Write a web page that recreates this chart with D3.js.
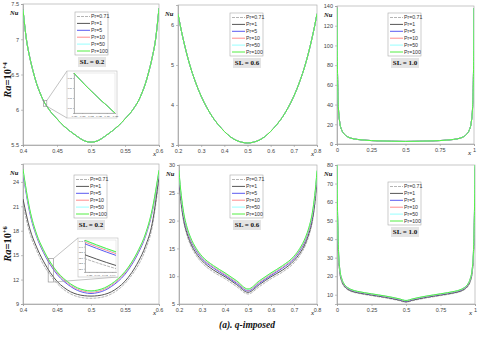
<!DOCTYPE html>
<html>
<head>
<meta charset="utf-8">
<script src="https://cdn.jsdelivr.net/npm/d3@7"></script>
<style>
body { margin: 0; background: #fff; }
svg { display: block; }
</style>
</head>
<body>
<svg id="chart" width="480" height="338"></svg>
<script>
// series labels
var prLabels = ["Pr=0.71", "Pr=1", "Pr=5", "Pr=10", "Pr=50", "Pr=100"];

// Ra = 10^4, SL = 0.2 (all Pr overlap)
var xA = [0.4, 0.405, 0.41, 0.415, 0.42, 0.425, 0.43, 0.435, 0.44, 0.45, 0.46, 0.47, 0.48, 0.49, 0.5,
          0.51, 0.52, 0.53, 0.54, 0.55, 0.56, 0.565, 0.57, 0.575, 0.58, 0.585, 0.59, 0.595, 0.6];
var nuA = [7.42, 7.0, 6.74, 6.54, 6.37, 6.24, 6.13, 6.05, 5.98, 5.87, 5.77, 5.69, 5.62, 5.56, 5.54,
           5.56, 5.62, 5.69, 5.77, 5.87, 5.98, 6.05, 6.13, 6.24, 6.37, 6.54, 6.74, 7.0, 7.44];

// Ra = 10^4, SL = 0.6
var xB = [0.2, 0.21, 0.22, 0.23, 0.24, 0.25, 0.275, 0.3, 0.325, 0.35, 0.375, 0.4, 0.425, 0.45, 0.475, 0.5,
          0.525, 0.55, 0.575, 0.6, 0.625, 0.65, 0.675, 0.7, 0.725, 0.75, 0.76, 0.77, 0.78, 0.79, 0.8];
var nuB = [6.28, 5.98, 5.71, 5.46, 5.23, 5.02, 4.58, 4.22, 3.93, 3.69, 3.5, 3.34, 3.21, 3.12, 3.07, 3.05,
           3.07, 3.12, 3.21, 3.34, 3.5, 3.69, 3.93, 4.22, 4.58, 5.02, 5.23, 5.46, 5.71, 5.98, 6.28];

// Ra = 10^4, SL = 1.0
var xC = [0, 0.002, 0.005, 0.01, 0.02, 0.035, 0.05, 0.075, 0.1, 0.15, 0.2, 0.3, 0.4, 0.5,
          0.6, 0.7, 0.8, 0.85, 0.9, 0.925, 0.95, 0.965, 0.98, 0.99, 0.995, 0.998, 1];
var nuC = [138, 95, 62, 38, 22, 14, 10.5, 7.5, 6, 4.6, 3.9, 3.2, 2.8, 2.6,
           2.8, 3.2, 3.9, 4.6, 6, 7.5, 10.5, 14, 22, 38, 62, 95, 138];

// Ra = 10^6, SL = 0.2
var xD = [0.4, 0.41, 0.42, 0.43, 0.44, 0.45, 0.46, 0.47, 0.48, 0.49, 0.5,
          0.51, 0.52, 0.53, 0.54, 0.55, 0.56, 0.57, 0.58, 0.59, 0.6];
var nuD071 = [21.25, 17.71, 15.56, 13.84, 12.55, 11.53, 10.77, 10.24, 9.91, 9.75, 9.7, 9.75, 9.91, 10.24, 10.77, 11.53, 12.55, 13.84, 15.66, 18.46, 24.26];
var nuD1   = [21.9, 18.24, 15.99, 14.27, 12.87, 11.79, 11.04, 10.5, 10.18, 10.02, 9.97, 10.02, 10.18, 10.5, 11.04, 11.79, 12.87, 14.27, 16.1, 18.89, 24.7];
var nuD5   = [25.02, 20.18, 17.28, 15.34, 13.84, 12.65, 11.79, 11.15, 10.67, 10.4, 10.29, 10.4, 10.67, 11.15, 11.79, 12.65, 13.84, 15.34, 17.28, 20.29, 25.13];
var nuD10  = [25.35, 20.45, 17.44, 15.51, 14.0, 12.82, 11.96, 11.31, 10.83, 10.56, 10.45, 10.56, 10.83, 11.31, 11.96, 12.82, 14.0, 15.51, 17.44, 20.45, 25.3];
var nuD50  = [25.5, 20.56, 17.55, 15.62, 14.11, 12.93, 12.07, 11.42, 10.94, 10.67, 10.56, 10.67, 10.94, 11.42, 12.07, 12.93, 14.11, 15.62, 17.55, 20.56, 25.4];
var nuD100 = [25.56, 20.61, 17.6, 15.67, 14.16, 12.98, 12.12, 11.47, 10.99, 10.72, 10.61, 10.72, 10.99, 11.47, 12.12, 12.98, 14.16, 15.67, 17.6, 20.61, 25.45];

// Ra = 10^6, SL = 0.6
var xE = [0.2, 0.205, 0.21, 0.22, 0.235, 0.25, 0.275, 0.3, 0.35, 0.4, 0.45, 0.5,
          0.55, 0.6, 0.65, 0.7, 0.725, 0.75, 0.765, 0.78, 0.79, 0.795, 0.8];
var nuE071 = [27.0, 24.5, 22.6, 19.8, 17.3, 15.6, 13.7, 12.4, 10.75, 9.55, 8.15, 6.8, 8.15, 9.55, 10.75, 12.4, 13.7, 15.6, 17.3, 19.8, 22.6, 24.5, 27.0];
var nuE1   = [27.5, 25.0, 23.0, 20.2, 17.7, 16.0, 14.1, 12.8, 11.1, 9.9, 8.5, 7.1, 8.5, 9.9, 11.1, 12.8, 14.1, 16.0, 17.7, 20.2, 23.0, 25.0, 27.5];
var nuE5   = [28.4, 25.9, 23.9, 20.9, 18.3, 16.5, 14.55, 13.15, 11.45, 10.15, 8.75, 7.35, 8.75, 10.15, 11.45, 13.15, 14.55, 16.5, 18.3, 20.9, 23.9, 25.9, 28.4];
var nuE10  = [28.7, 26.2, 24.2, 21.2, 18.5, 16.7, 14.75, 13.35, 11.65, 10.35, 8.95, 7.5, 8.95, 10.35, 11.65, 13.35, 14.75, 16.7, 18.5, 21.2, 24.2, 26.2, 28.7];
var nuE50  = [28.9, 26.4, 24.4, 21.4, 18.7, 16.9, 14.9, 13.5, 11.8, 10.5, 9.1, 7.6, 9.1, 10.5, 11.8, 13.5, 14.9, 16.9, 18.7, 21.4, 24.4, 26.4, 28.9];
var nuE100 = [29.0, 26.5, 24.5, 21.5, 18.8, 17.0, 15.0, 13.6, 11.9, 10.6, 9.2, 7.7, 9.2, 10.6, 11.9, 13.6, 15.0, 17.0, 18.8, 21.5, 24.5, 26.5, 29.0];

// Ra = 10^6, SL = 1.0
var xF = [0, 0.003, 0.007, 0.012, 0.02, 0.035, 0.05, 0.075, 0.1, 0.15, 0.2, 0.25, 0.3, 0.35, 0.4, 0.45, 0.5,
          0.55, 0.6, 0.65, 0.7, 0.75, 0.8, 0.85, 0.9, 0.925, 0.95, 0.965, 0.98, 0.988, 0.993, 0.997, 1];
var nuF071 = [77, 56, 40, 29.3, 22.0, 16.9, 14.6, 12.8, 11.8, 10.8, 10.1, 9.5, 8.9, 8.3, 7.6, 6.8, 5.9,
              6.8, 7.6, 8.3, 8.9, 9.5, 10.1, 10.8, 11.8, 12.8, 14.6, 16.9, 22.0, 29.3, 40, 56, 77];
var nuF1   = [78, 57, 41, 30, 22.5, 17.3, 15.0, 13.1, 12.1, 11.1, 10.4, 9.8, 9.2, 8.6, 7.9, 7.1, 6.2,
              7.1, 7.9, 8.6, 9.2, 9.8, 10.4, 11.1, 12.1, 13.1, 15.0, 17.3, 22.5, 30, 41, 57, 78];
var nuF5   = [79, 59, 43, 31.5, 23.6, 18.2, 15.7, 13.7, 12.6, 11.5, 10.8, 10.2, 9.6, 9.0, 8.3, 7.5, 6.6,
              7.5, 8.3, 9.0, 9.6, 10.2, 10.8, 11.5, 12.6, 13.7, 15.7, 18.2, 23.6, 31.5, 43, 59, 79];
var nuF10  = [79.5, 59.5, 43.5, 31.8, 23.8, 18.4, 15.9, 13.9, 12.8, 11.7, 11.0, 10.4, 9.8, 9.2, 8.5, 7.7, 6.8,
              7.7, 8.5, 9.2, 9.8, 10.4, 11.0, 11.7, 12.8, 13.9, 15.9, 18.4, 23.8, 31.8, 43.5, 59.5, 79.5];
var nuF50  = [80, 60, 44, 32, 24, 18.5, 16.0, 14.0, 12.9, 11.8, 11.1, 10.5, 9.9, 9.3, 8.6, 7.8, 6.9,
              7.8, 8.6, 9.3, 9.9, 10.5, 11.1, 11.8, 12.9, 14.0, 16.0, 18.5, 24, 32, 44, 60, 80];
var nuF100 = [80, 60, 44, 32, 24, 18.5, 16.0, 14.0, 12.9, 11.8, 11.1, 10.5, 9.9, 9.3, 8.6, 7.8, 6.9,
              7.8, 8.6, 9.3, 9.9, 10.5, 11.1, 11.8, 12.9, 14.0, 16.0, 18.5, 24, 32, 44, 60, 80];

// tick labels
var ticksX04 = [0.4, 0.45, 0.5, 0.55, 0.6];
var ticksX02 = [0.2, 0.3, 0.4, 0.5, 0.6, 0.7, 0.8];
var ticksX01 = [0, 0.25, 0.5, 0.75, 1];
var ticksYA = [5.5, 6, 6.5, 7, 7.5];
var ticksYB = [3, 4, 5, 6];
var ticksYC = [0, 20, 40, 60, 80, 100, 120, 140];
var ticksYD = [9, 12, 15, 18, 21, 24];
var ticksYE = [5, 10, 15, 20, 25, 30];
var ticksYF = [10, 20, 30, 40, 50, 60, 70, 80];

var prColors = ["#b4b4b4", "#555555", "#5a5af0", "#ff8c8c", "#98ffff", "#55ee44"];
var prDash = ["3,1", null, null, null, null, null];

var svg = d3.select("#chart");
var clipId = 0;

function drawCurves(g, x, y, xs, series, clip) {
    var line = d3.line()
        .x(function(d) { return x(d[0]); })
        .y(function(d) { return y(d[1]); })
        .curve(d3.curveMonotoneX);
    var cg = g.append("g").attr("clip-path", "url(#" + clip + ")");
    series.forEach(function(s, i) {
        cg.append("path")
            .attr("d", line(xs.map(function(v, k) { return [v, s[k]]; })))
            .attr("fill", "none")
            .attr("stroke", prColors[i])
            .attr("stroke-width", 1)
            .attr("stroke-dasharray", prDash[i]);
    });
}

function addClip(x0, y0, w, h) {
    var id = "clip" + (clipId++);
    svg.append("clipPath").attr("id", id)
        .append("rect").attr("x", x0).attr("y", y0).attr("width", w).attr("height", h);
    return id;
}

function styleAxis(sel, fs) {
    sel.select(".domain").attr("stroke", "#9a9a9a").attr("stroke-width", 0.7);
    sel.selectAll(".tick line").attr("stroke", "#9a9a9a").attr("stroke-width", 0.6);
    sel.selectAll(".tick text")
        .attr("fill", "#444")
        .style("font-family", "Liberation Sans, Arial, sans-serif")
        .style("font-size", fs + "px");
}

function drawPanel(p) {
    var g = svg.append("g");
    var x = d3.scaleLinear().domain(p.xDom).range([p.left, p.left + p.w]);
    var y = d3.scaleLinear().domain(p.yDom).range([p.top + p.h, p.top]);

    g.append("rect")
        .attr("x", p.left).attr("y", p.top)
        .attr("width", p.w).attr("height", p.h)
        .attr("fill", "none").attr("stroke", "#b0b0b0").attr("stroke-width", 0.7);

    var ax = g.append("g")
        .attr("transform", "translate(0," + (p.top + p.h) + ")")
        .call(d3.axisBottom(x).tickValues(p.xTicks).tickSize(2).tickPadding(2).tickFormat(function(d) { return d; }));
    styleAxis(ax, 5.5);
    var ay = g.append("g")
        .attr("transform", "translate(" + p.left + ",0)")
        .call(d3.axisLeft(y).tickValues(p.yTicks).tickSize(2).tickPadding(2).tickFormat(function(d) { return d; }));
    styleAxis(ay, 5.5);

    var clip = addClip(p.left, p.top, p.w, p.h);
    drawCurves(g, x, y, p.xs, p.series, clip);

    // inset zoom
    if (p.inset) {
        var ins = p.inset;
        var rx0 = x(ins.xDom[0]), rx1 = x(ins.xDom[1]);
        var ry0 = y(ins.yDom[1]), ry1 = y(ins.yDom[0]);
        g.append("rect")
            .attr("x", rx0).attr("y", ry0).attr("width", rx1 - rx0).attr("height", ry1 - ry0)
            .attr("fill", "none").attr("stroke", "#888").attr("stroke-width", 0.6);
        g.append("line").attr("x1", rx1).attr("y1", ry0).attr("x2", ins.box[0]).attr("y2", ins.box[1])
            .attr("stroke", "#999").attr("stroke-width", 0.6);
        g.append("line").attr("x1", rx1).attr("y1", ry1)
            .attr("x2", ins.lowerRight ? ins.box[0] + ins.box[2] : ins.box[0])
            .attr("y2", ins.box[1] + ins.box[3])
            .attr("stroke", "#999").attr("stroke-width", 0.6);
        g.append("rect")
            .attr("x", ins.box[0]).attr("y", ins.box[1]).attr("width", ins.box[2]).attr("height", ins.box[3])
            .attr("fill", "#fff").attr("stroke", "#bbb").attr("stroke-width", 0.6);
        var il = ins.box[0] + 7, it = ins.box[1] + 2, iw = ins.box[2] - 9, ih = ins.box[3] - 7;
        var ix = d3.scaleLinear().domain(ins.xDom).range([il, il + iw]);
        var iy = d3.scaleLinear().domain(ins.yDom).range([it + ih, it]);
        g.append("rect").attr("x", il).attr("y", it).attr("width", iw).attr("height", ih)
            .attr("fill", "none").attr("stroke", "#ccc").attr("stroke-width", 0.4);
        var iax = g.append("g").attr("transform", "translate(0," + (it + ih) + ")")
            .call(d3.axisBottom(ix).ticks(4).tickSize(1).tickPadding(1));
        styleAxis(iax, 2.2);
        var iay = g.append("g").attr("transform", "translate(" + il + ",0)")
            .call(d3.axisLeft(iy).ticks(5).tickSize(1).tickPadding(1));
        styleAxis(iay, 2.2);
        var iclip = addClip(il, it, iw, ih);
        drawCurves(g, ix, iy, p.xs, p.series, iclip);
    }

    // legend
    var lg = g.append("g").attr("transform", "translate(" + p.leg[0] + "," + p.leg[1] + ")");
    lg.append("rect").attr("width", 33).attr("height", 43)
        .attr("fill", "#fff").attr("stroke", "#aaa").attr("stroke-width", 0.6);
    prLabels.forEach(function(lab, i) {
        var yy = 4.5 + i * 6.9;
        lg.append("line").attr("x1", 2).attr("x2", 15).attr("y1", yy).attr("y2", yy)
            .attr("stroke", prColors[i]).attr("stroke-width", 1)
            .attr("stroke-dasharray", prDash[i]);
        lg.append("text").attr("x", 16).attr("y", yy + 1.8).text(lab)
            .style("font-family", "Liberation Sans, Arial, sans-serif")
            .style("font-size", "5.2px").attr("fill", "#333");
    });
    var sg = g.append("g").attr("transform", "translate(" + (p.leg[0] + 3) + "," + (p.leg[1] + 45) + ")");
    sg.append("rect").attr("width", 28).attr("height", 10).attr("fill", "#e4e4e4");
    sg.append("text").attr("x", 14).attr("y", 7.4).attr("text-anchor", "middle")
        .text("SL = " + p.sl)
        .style("font-family", "Liberation Serif, Times New Roman, serif")
        .style("font-weight", "bold").style("font-size", "7px").attr("fill", "#111");

    // axis titles
    g.append("text").attr("x", p.left - 13).attr("y", p.top + 11).text("Nu")
        .style("font-family", "Liberation Serif, serif").style("font-style", "italic")
        .style("font-weight", "bold").style("font-size", "6.5px").attr("fill", "#111");
    g.append("text").attr("x", p.left + p.w - 6).attr("y", p.top + p.h + 11).text("x")
        .style("font-family", "Liberation Serif, serif").style("font-style", "italic")
        .style("font-size", "7px").attr("fill", "#111");
}

var panels = [
    {left: 23, top: 4, w: 136, h: 141, xDom: [0.4, 0.6], yDom: [5.5, 7.5], xTicks: ticksX04, yTicks: ticksYA,
     xs: xA, series: [nuA, nuA, nuA, nuA, nuA, nuA], sl: "0.2", leg: [75, 12],
     inset: {xDom: [0.43, 0.435], yDom: [6.05, 6.13], box: [67, 71, 50, 47], lowerRight: false}},
    {left: 178, top: 5, w: 139, h: 140, xDom: [0.2, 0.8], yDom: [3, 6.5], xTicks: ticksX02, yTicks: ticksYB,
     xs: xB, series: [nuB, nuB, nuB, nuB, nuB, nuB], sl: "0.6", leg: [230, 13]},
    {left: 337, top: 6, w: 137, h: 138, xDom: [0, 1], yDom: [0, 140], xTicks: ticksX01, yTicks: ticksYC,
     xs: xC, series: [nuC, nuC, nuC, nuC, nuC, nuC], sl: "1.0", leg: [388, 13]},
    {left: 23, top: 164, w: 136, h: 140, xDom: [0.4, 0.6], yDom: [9, 26.2], xTicks: ticksX04, yTicks: ticksYD,
     xs: xD, series: [nuD071, nuD1, nuD5, nuD10, nuD50, nuD100], sl: "0.2", leg: [74, 175],
     inset: {xDom: [0.437, 0.445], yDom: [11.7, 14.6], box: [78, 238, 40, 39], lowerRight: true}},
    {left: 179, top: 165, w: 138, h: 139, xDom: [0.2, 0.8], yDom: [5, 30], xTicks: ticksX02, yTicks: ticksYE,
     xs: xE, series: [nuE071, nuE1, nuE5, nuE10, nuE50, nuE100], sl: "0.6", leg: [230, 175]},
    {left: 337, top: 165, w: 138, h: 139, xDom: [0, 1], yDom: [5, 80], xTicks: ticksX01, yTicks: ticksYF,
     xs: xF, series: [nuF071, nuF1, nuF5, nuF10, nuF50, nuF100], sl: "1.0", leg: [388, 182]}
];

panels.forEach(drawPanel);

// row labels
function raLabel(cy, pow) {
    var t = svg.append("text")
        .attr("transform", "translate(11," + cy + ") rotate(-90)")
        .attr("text-anchor", "middle")
        .style("font-family", "Liberation Serif, Times New Roman, serif")
        .style("font-weight", "bold").style("font-size", "10.5px").attr("fill", "#111");
    t.append("tspan").style("font-style", "italic").text("Ra");
    t.append("tspan").text("=10");
    t.append("tspan").attr("dy", -4).style("font-size", "6.5px").text(pow);
}
raLabel(80, "+4");
raLabel(244, "+6");

svg.append("text").attr("x", 247).attr("y", 328).attr("text-anchor", "middle")
    .style("font-family", "Liberation Serif, Times New Roman, serif")
    .style("font-weight", "bold").style("font-style", "italic").style("font-size", "9.5px")
    .attr("fill", "#111")
    .text("(a). q-imposed");
</script>
</body>
</html>
